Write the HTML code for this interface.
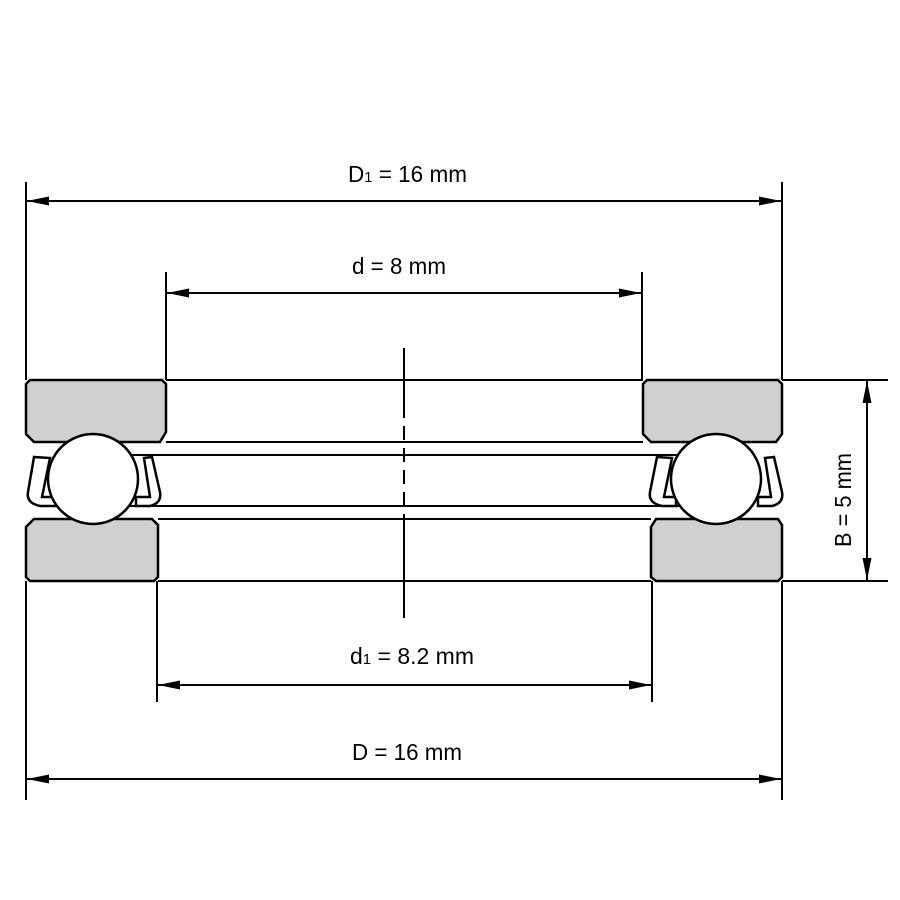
<!DOCTYPE html>
<html><head><style>body{margin:0;background:#fff}svg{display:block}</style></head><body>
<svg width="900" height="900" viewBox="0 0 900 900" xmlns="http://www.w3.org/2000/svg" font-family="'Liberation Sans Narrow','Liberation Sans',sans-serif" font-size="23" fill="#000">
<defs><marker id="a" viewBox="0 0 22 10" refX="22" refY="5" markerWidth="22" markerHeight="10" markerUnits="userSpaceOnUse" orient="auto-start-reverse"><path d="M0,0.5 L22,5 L0,9.5 z" fill="#000"/></marker></defs>
<g stroke="#000" stroke-width="2" fill="none">
<line x1="26" y1="182" x2="26" y2="380"/><line x1="782" y1="182" x2="782" y2="380"/>
<line x1="26" y1="581" x2="26" y2="800"/><line x1="782" y1="581" x2="782" y2="800"/>
<line x1="166" y1="272" x2="166" y2="380"/><line x1="642" y1="272" x2="642" y2="380"/>
<line x1="157" y1="581" x2="157" y2="702"/><line x1="652" y1="581" x2="652" y2="702"/>
<line x1="782" y1="380" x2="888" y2="380"/><line x1="782" y1="581" x2="888" y2="581"/>
<line x1="27" y1="201" x2="781" y2="201" marker-start="url(#a)" marker-end="url(#a)"/>
<line x1="167" y1="293" x2="641" y2="293" marker-start="url(#a)" marker-end="url(#a)"/>
<line x1="158" y1="685" x2="651" y2="685" marker-start="url(#a)" marker-end="url(#a)"/>
<line x1="27" y1="779" x2="781" y2="779" marker-start="url(#a)" marker-end="url(#a)"/>
<line x1="867" y1="381" x2="867" y2="580" marker-start="url(#a)" marker-end="url(#a)"/>
<line x1="166" y1="380" x2="643" y2="380"/><line x1="166" y1="442" x2="643" y2="442"/>
<line x1="130" y1="455" x2="680" y2="455"/><line x1="130" y1="506" x2="680" y2="506"/>
<line x1="158" y1="519" x2="651" y2="519"/><line x1="158" y1="581" x2="651" y2="581"/>
<line x1="404" y1="348" x2="404" y2="618" stroke-dasharray="70,8,14,8,14,8,14,8,14,8,200"/>
</g>
<g stroke="#000" stroke-width="2.5" fill="#d0d0d0">
<path d="M30,380 H162 L166,384 V432 L160,442 H34 L26,434 V384 Z"/>
<path d="M34,519 H152 L158,525 V577 L154,581 H30 L26,577 V527 Z"/>
<path d="M647,380 H778 L782,384 V434 L776,442 H651 L643,434 V384 Z"/>
<path d="M656,519 H778 L782,525 V577 L778,581 H656 L651,577 V527 Z"/>
</g>
<g stroke="#000" stroke-width="2.5" fill="#fff">
<path d="M34,457 L50,458 L42,497 L56,497 L56,506 L40,506 Q26,503 28,492 Z"/>
<path d="M152,457 L144,458 L150,497 L136,497 L136,506 L150,506 Q162,503 160,492 Z"/>
<path d="M657,457 L672,458 L664,497 L676,497 L676,506 L662,506 Q648,503 650,492 Z"/>
<path d="M774,457 L765,458 L771,497 L758,497 L758,506 L772,506 Q784,503 782,492 Z"/>
<circle cx="93" cy="479" r="45"/>
<circle cx="716" cy="479" r="45"/>
</g>
<text x="348" y="182" textLength="119" lengthAdjust="spacingAndGlyphs">D<tspan font-size="15">1</tspan> = 16 mm</text>
<text x="352" y="274" textLength="94" lengthAdjust="spacingAndGlyphs">d = 8 mm</text>
<text x="350" y="664" textLength="124" lengthAdjust="spacingAndGlyphs">d<tspan font-size="15">1</tspan> = 8.2 mm</text>
<text x="352" y="760" textLength="110" lengthAdjust="spacingAndGlyphs">D = 16 mm</text>
<text transform="translate(851,547) rotate(-90)" x="0" y="0" textLength="94" lengthAdjust="spacingAndGlyphs">B = 5 mm</text>
</svg>
</body></html>
